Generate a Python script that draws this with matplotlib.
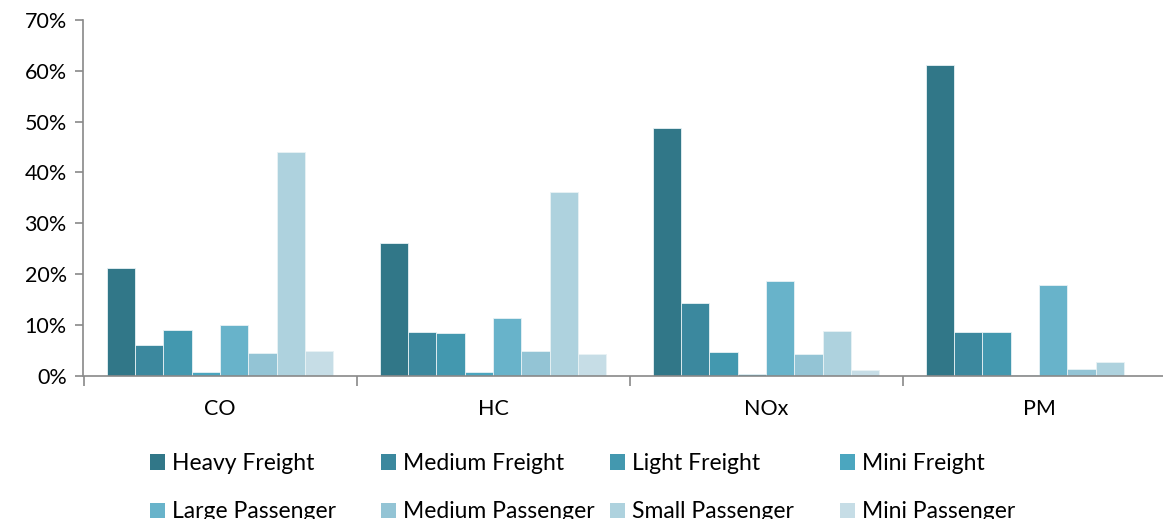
import matplotlib.pyplot as plt
from matplotlib.patches import Patch
import numpy as np

pollutants = ['CO', 'HC', 'NOx', 'PM']
vehicle_types = ['Heavy Freight', 'Medium Freight', 'Light Freight', 'Mini Freight',
                 'Large Passenger', 'Medium Passenger', 'Small Passenger', 'Mini Passenger']

# share of emissions per vehicle type, in % (order: CO, HC, NOx, PM)
heavy_freight = [21.1, 26.0, 48.7, 61.1]
medium_freight = [6.0, 8.5, 14.3, 8.6]
light_freight = [9.0, 8.4, 4.6, 8.6]
mini_freight = [0.7, 0.7, 0.2, 0.1]
large_passenger = [10.0, 11.3, 18.6, 17.8]
medium_passenger = [4.4, 4.8, 4.2, 1.2]
small_passenger = [44.1, 36.2, 8.8, 2.7]
mini_passenger = [4.8, 4.2, 1.1, 0.0]

series = [heavy_freight, medium_freight, light_freight, mini_freight,
          large_passenger, medium_passenger, small_passenger, mini_passenger]
colors = ['#317788', '#3b889e', '#4398af', '#4ba6bf',
          '#68b3ca', '#93c4d5', '#aed2de', '#c6dde6']

plt.rcParams['font.family'] = ['Lato', 'DejaVu Sans']

W, H = 1163, 519
fig = plt.figure(figsize=(W / 100, H / 100), dpi=100)
ax = fig.add_axes([83.5 / W, (H - 375.5) / H, 1092 / W, 355.5 / H])

x = np.arange(len(pollutants))
bw = 0.1037
for i, (vals, c) in enumerate(zip(series, colors)):
    offs = (i - 3.5) * bw
    ax.bar(x + offs, np.array(vals) / 100, width=bw, color=c,
           edgecolor='#e8f2f5', linewidth=0.6, label=vehicle_types[i])

ax.set_xlim(-0.5, len(pollutants) - 0.5)
ax.set_ylim(0, 0.70)
ax.set_yticks(np.arange(0, 0.71, 0.1))
ax.set_yticklabels([f'{int(round(v * 100))}%' for v in np.arange(0, 0.71, 0.1)])

# category boundaries as ticks, labels centred in each group
ax.set_xticks(np.arange(-0.5, len(pollutants) + 0.5, 1))
ax.set_xticklabels([])
ax.set_xticks(x, minor=True)
ax.set_xticklabels(pollutants, minor=True)
ax.tick_params(axis='x', which='major', length=7, color='#898989', width=1.2)
ax.tick_params(axis='x', which='minor', length=0, labelsize=15.5, pad=17)
ax.tick_params(axis='y', length=6, color='#898989', width=1.2, labelsize=15.5, pad=6)

for s in ['top', 'right']:
    ax.spines[s].set_visible(False)
for s in ['left', 'bottom']:
    ax.spines[s].set_color('#898989')
    ax.spines[s].set_linewidth(1.2)

# legend laid out in 4 fixed-pitch columns
col_x = [150, 381, 610, 840]
for j in range(4):
    handles = [Patch(facecolor=colors[j]), Patch(facecolor=colors[j + 4])]
    labels = [vehicle_types[j], vehicle_types[j + 4]]
    fig.legend(handles, labels, loc='upper left',
               bbox_to_anchor=(col_x[j] / W, (H - 453) / H),
               frameon=False, fontsize=16.5, handlelength=0.65, handleheight=0.65,
               handletextpad=0.3, labelspacing=1.2, borderpad=0, borderaxespad=0)

fig.savefig('out.png', dpi=100)
